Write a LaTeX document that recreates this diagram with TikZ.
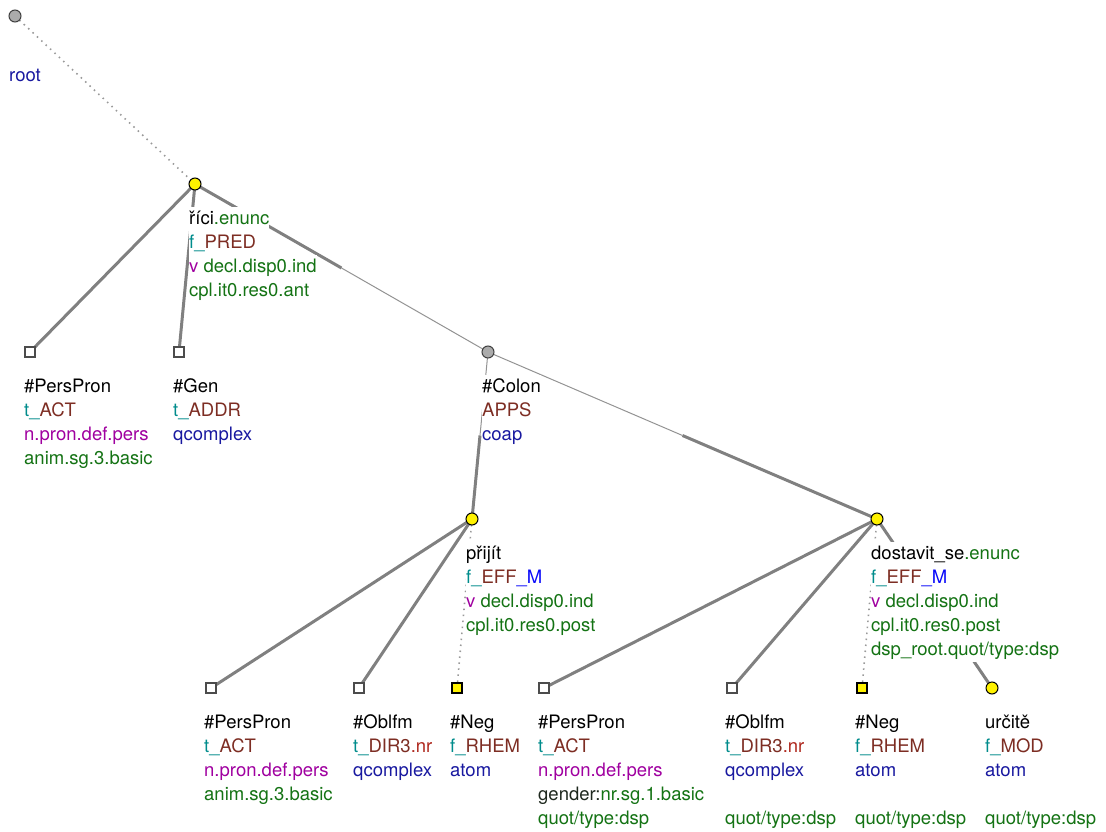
\documentclass[tikz,border=0pt]{standalone}
\usepackage{fontspec}
\setmainfont{TeX Gyre Heros}
\usepackage{tikz}
\usetikzlibrary{calc,backgrounds}
\definecolor{tcyan}{RGB}{0,140,140}
\definecolor{tbrown}{RGB}{125,45,35}
\definecolor{tpurple}{RGB}{160,0,160}
\definecolor{tgreen}{RGB}{20,115,20}
\definecolor{tnavy}{RGB}{25,25,160}
\definecolor{tblue}{RGB}{10,10,250}
\definecolor{tred}{RGB}{175,40,30}
\definecolor{tdark}{RGB}{30,40,30}
\definecolor{edgegray}{RGB}{128,128,128}
\newcommand\cyn[1]{\textcolor{tcyan}{#1}}
\newcommand\brn[1]{\textcolor{tbrown}{#1}}
\newcommand\prp[1]{\textcolor{tpurple}{#1}}
\newcommand\grn[1]{\textcolor{tgreen}{#1}}
\newcommand\nvy[1]{\textcolor{tnavy}{#1}}
\newcommand\blu[1]{\textcolor{tblue}{#1}}
\newcommand\rdd[1]{\textcolor{tred}{#1}}
\newcommand\dgr[1]{\textcolor{tdark}{#1}}
\setlength\fboxsep{0pt}
\newcommand\lbox[1]{\colorbox{white}{\strut#1}}

\begin{document}
\begin{tikzpicture}[x=1pt,y=-1pt,
  yel/.style={circle,draw=black,fill=yellow,line width=1pt,minimum size=12pt,inner sep=0pt},
  gry/.style={circle,draw=black!75,fill=black!33,line width=1pt,minimum size=12pt,inner sep=0pt},
  sq/.style={rectangle,draw=black!70,fill=white,line width=1.2pt,minimum size=10pt,inner sep=0pt},
  ysq/.style={rectangle,draw=black,fill=yellow,line width=1.2pt,minimum size=10pt,inner sep=0pt},
  lab/.style={anchor=north west,align=left,inner sep=0pt,
              font=\fontsize{18.5}{24}\selectfont},
  thick/.style={draw=edgegray,line width=3pt},
  thin/.style={draw=edgegray!85,line width=1pt},
  dot/.style={draw=edgegray!80,line width=1.6pt,dash pattern=on 1.5pt off 4.5pt},
]
\useasboundingbox (0,0) rectangle (1106,832);
\node[gry] (root) at (15,16) {};
\node[yel] (rici) at (195,184) {};
\node[sq] (ppronA) at (30,352) {};
\node[sq] (gen) at (179,352) {};
\node[gry] (colon) at (488,352) {};
\node[yel] (prijit) at (472,519) {};
\node[yel] (dostavit) at (877,519) {};
\node[sq] (ppronB) at (211,688) {};
\node[sq] (oblfmA) at (359,688) {};
\node[ysq] (negA) at (457,688) {};
\node[sq] (ppronC) at (544,688) {};
\node[sq] (oblfmB) at (732,688) {};
\node[ysq] (negB) at (862,688) {};
\node[yel] (urcite) at (992,688) {};

\begin{scope}[on background layer]
\draw[dot] (root.center) -- (rici.center);
\draw[thick] (rici.center) -- (ppronA.center);
\draw[thick] (rici.center) -- (gen.center);
\draw[thick] (rici.center) -- ($(rici)!0.5!(colon)$);
\draw[thin] ($(rici)!0.5!(colon)$) -- (colon.center);
\draw[thin] (colon.center) -- ($(colon)!0.5!(prijit)$);
\draw[thick] ($(colon)!0.5!(prijit)$) -- (prijit.center);
\draw[thin] (colon.center) -- ($(colon)!0.5!(dostavit)$);
\draw[thick] ($(colon)!0.5!(dostavit)$) -- (dostavit.center);
\draw[thick] (prijit.center) -- (ppronB.center);
\draw[thick] (prijit.center) -- (oblfmA.center);
\draw[dot] (prijit.center) -- (negA.center);
\draw[thick] (dostavit.center) -- (ppronC.center);
\draw[thick] (dostavit.center) -- (oblfmB.center);
\draw[dot] (dostavit.center) -- (negB.center);
\draw[thick] (dostavit.center) -- (urcite.center);
\end{scope}

\node[lab] (rootl) at (9,65) {\lbox{\nvy{root}}};
\node[lab] (ricil) at (189,207)
  {\lbox{říci\grn{.enunc}}\\\lbox{\cyn{f\_}\brn{PRED}}\\\lbox{\prp{v} \grn{decl.disp0.ind}}\\\lbox{\grn{cpl.it0.res0.ant}}};
\node[lab] (ppronAl) at (24,375)
  {\lbox{\#PersPron}\\\lbox{\cyn{t\_}\brn{ACT}}\\\lbox{\prp{n.pron.def.pers}}\\\lbox{\grn{anim.sg.3.basic}}};
\node[lab] (genl) at (173,375)
  {\lbox{\#Gen}\\\lbox{\cyn{t\_}\brn{ADDR}}\\\lbox{\nvy{qcomplex}}};
\node[lab] (colonl) at (482,375)
  {\lbox{\#Colon}\\\lbox{\brn{APPS}}\\\lbox{\nvy{coap}}};
\node[lab] (prijitl) at (466,542)
  {\lbox{přijít}\\\lbox{\cyn{f\_}\brn{EFF}\blu{\_M}}\\\lbox{\prp{v} \grn{decl.disp0.ind}}\\\lbox{\grn{cpl.it0.res0.post}}};
\node[lab] (dostavitl) at (871,542)
  {\lbox{dostavit\_se\grn{.enunc}}\\\lbox{\cyn{f\_}\brn{EFF}\blu{\_M}}\\\lbox{\prp{v} \grn{decl.disp0.ind}}\\\lbox{\grn{cpl.it0.res0.post}}\\\lbox{\grn{dsp\_root.quot/type:dsp}}};
\node[lab] (ppronBl) at (204,711)
  {\lbox{\#PersPron}\\\lbox{\cyn{t\_}\brn{ACT}}\\\lbox{\prp{n.pron.def.pers}}\\\lbox{\grn{anim.sg.3.basic}}};
\node[lab] (oblfmAl) at (353,711)
  {\lbox{\#Oblfm}\\\lbox{\cyn{t\_}\brn{DIR3}\rdd{.nr}}\\\lbox{\nvy{qcomplex}}};
\node[lab] (negAl) at (450,711)
  {\lbox{\#Neg}\\\lbox{\cyn{f\_}\brn{RHEM}}\\\lbox{\nvy{atom}}};
\node[lab] (ppronCl) at (538,711)
  {\lbox{\#PersPron}\\\lbox{\cyn{t\_}\brn{ACT}}\\\lbox{\prp{n.pron.def.pers}}\\\lbox{\dgr{gender:}\grn{nr.sg.1.basic}}\\\lbox{\grn{quot/type:dsp}}};
\node[lab] (oblfmBl) at (725,711)
  {\lbox{\#Oblfm}\\\lbox{\cyn{t\_}\brn{DIR3}\rdd{.nr}}\\\lbox{\nvy{qcomplex}}\\\strut\\\lbox{\grn{quot/type:dsp}}};
\node[lab] (negBl) at (855,711)
  {\lbox{\#Neg}\\\lbox{\cyn{f\_}\brn{RHEM}}\\\lbox{\nvy{atom}}\\\strut\\\lbox{\grn{quot/type:dsp}}};
\node[lab] (urcitel) at (985,711)
  {\lbox{určitě}\\\lbox{\cyn{f\_}\brn{MOD}}\\\lbox{\nvy{atom}}\\\strut\\\lbox{\grn{quot/type:dsp}}};
\end{tikzpicture}
\end{document}
